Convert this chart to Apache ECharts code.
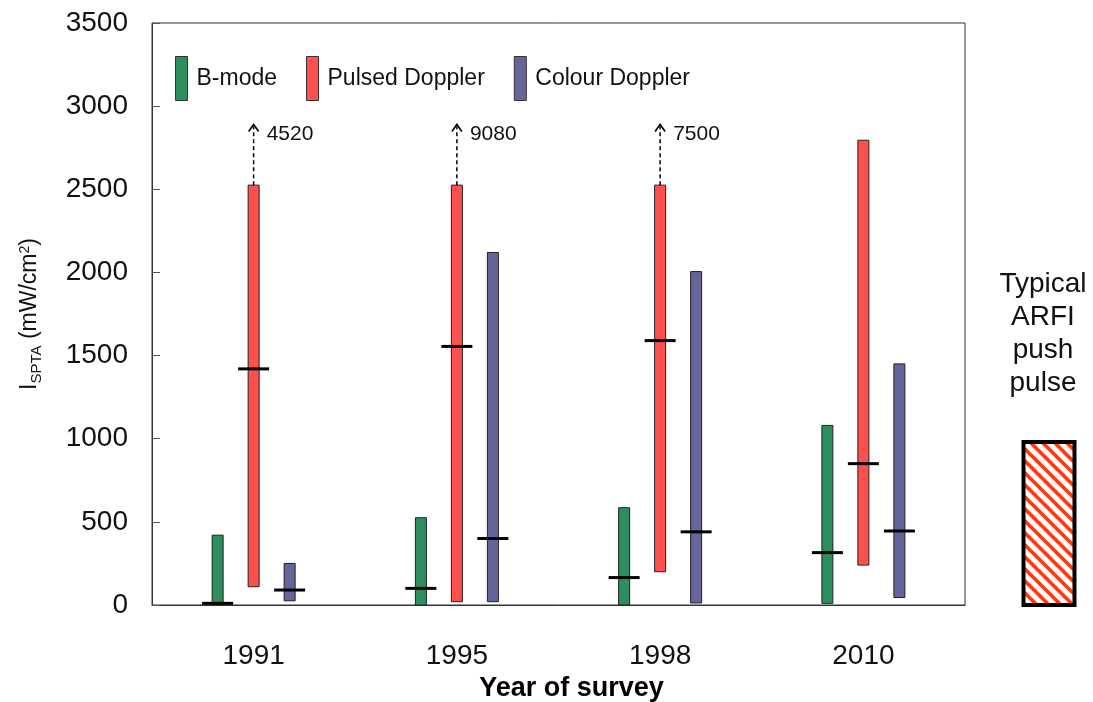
<!DOCTYPE html>
<html>
<head>
<meta charset="utf-8">
<script src="https://cdn.jsdelivr.net/npm/echarts@6/dist/echarts.min.js"></script>
<style>html,body{margin:0;padding:0;background:#fff}#chart{width:1093px;height:702px}</style>
</head>
<body>
<div id="chart"></div>
<script>
// ---- data ----
const years = ['1991', '1995', '1998', '2010'];
const seriesNames = ['B-mode', 'Pulsed Doppler', 'Colour Doppler'];
const bModeMin = [0, 0, 0, 10];
const bModeMax = [420, 525, 585, 1080];
const bModeMedian = [10, 100, 165, 315];
const pulsedMin = [110, 20, 200, 240];
const pulsedMax = [2525, 2525, 2525, 2795];
const pulsedMedian = [1420, 1555, 1590, 850];
const pulsedOffScaleMax = [4520, 9080, 7500, null];
const colourMin = [25, 20, 12, 45];
const colourMax = [250, 2120, 2005, 1450];
const colourMedian = [90, 400, 440, 445];
const arfiLabel = ['Typical ARFI push pulse'];
const arfiMin = [0];
const arfiMax = [980];
const yMin = 0, yMax = 3500, yStep = 500;
const arrowTip = 2890;

// ---- style constants ----
const FONT = '"Liberation Sans", Arial, sans-serif';
const BAR_W = 11, MED_W = 31, GROUP_OFF = 36;
const COLORS = ['#2e8f5e', '#ff5050', '#65659c'];

function rows(mins, maxs, meds) {
  return years.map((y, i) => [i, mins[i], maxs[i], meds[i]]);
}

function makeRange(offset, color, offScale) {
  return function (params, api) {
    const i = api.value(0);
    const pLo = api.coord([i, api.value(1)]);
    const pHi = api.coord([i, api.value(2)]);
    const pMd = api.coord([i, api.value(3)]);
    const x = pLo[0] + offset;
    const children = [
      { type: 'rect', shape: { x: x - BAR_W / 2, y: pHi[1], width: BAR_W, height: pLo[1] - pHi[1] },
        style: { fill: color, stroke: '#222', lineWidth: 1 } },
      { type: 'line', shape: { x1: x - MED_W / 2, y1: pMd[1], x2: x + MED_W / 2, y2: pMd[1] },
        style: { stroke: '#000', lineWidth: 3 } }
    ];
    const off = offScale ? offScale[params.dataIndex] : null;
    if (off != null) {
      const pTip = api.coord([i, arrowTip]);
      children.push({ type: 'line', shape: { x1: x, y1: pHi[1], x2: x, y2: pTip[1] + 2 },
        style: { stroke: '#000', lineWidth: 1.5, lineDash: [4, 3] } });
      children.push({ type: 'polyline', shape: { points: [[x - 5, pTip[1] + 7], [x, pTip[1]], [x + 5, pTip[1] + 7]] },
        style: { stroke: '#000', lineWidth: 1.6, fill: null } });
      children.push({ type: 'text', style: { text: String(off), x: x + 13, y: pTip[1] + 10,
        verticalAlign: 'middle', font: '21px ' + FONT, fill: '#111' } });
    }
    return { type: 'group', children };
  };
}

// hatch pattern
const pat = document.createElement('canvas');
pat.width = 12; pat.height = 12;
(function () {
  const c = pat.getContext('2d');
  c.fillStyle = '#fff'; c.fillRect(0, 0, 12, 12);
  c.strokeStyle = '#ff3a10'; c.lineWidth = 3.6;
  for (let k = -1; k <= 1; k++) {
    c.beginPath(); c.moveTo(-2, -2 + k * 12); c.lineTo(14, 14 + k * 12); c.stroke();
  }
})();

const chart = echarts.init(document.getElementById('chart'), null, { renderer: 'canvas' });
const option = {
  animation: false,
  backgroundColor: '#fff',
  textStyle: { fontFamily: FONT },
  legend: {
    data: seriesNames,
    left: 170, top: 51,
    icon: 'rect', itemWidth: 12, itemHeight: 44, itemGap: 29,
    itemStyle: { borderColor: '#333', borderWidth: 1 },
    textStyle: { fontSize: 23, color: '#111', fontFamily: FONT, padding: [0, 0, 0, 4] },
    selectedMode: false
  },
  grid: [
    { left: 152, right: 128, top: 23, bottom: 97, show: true, borderColor: '#333', borderWidth: 1,
      backgroundColor: 'transparent', outerBoundsMode: 'none', containLabel: false },
    { left: 1009, width: 80, top: 23, bottom: 97, outerBoundsMode: 'none', containLabel: false }
  ],
  xAxis: [
    { type: 'category', data: years, gridIndex: 0,
      axisLine: { lineStyle: { color: '#333' } }, axisTick: { show: false },
      axisLabel: { fontSize: 28, color: '#111', margin: 37, fontFamily: FONT },
      name: 'Year of survey', nameLocation: 'middle', nameGap: 58,
      nameTextStyle: { fontSize: 27, fontWeight: 'bold', color: '#000', fontFamily: FONT, padding: [0, 0, 0, 26] } },
    { type: 'category', data: arfiLabel, gridIndex: 1, show: false }
  ],
  yAxis: [
    { type: 'value', gridIndex: 0, min: yMin, max: yMax, interval: yStep,
      axisLine: { show: true, lineStyle: { color: '#333' } },
      axisTick: { show: true, inside: true, length: 8, lineStyle: { color: '#555' } },
      splitLine: { show: false },
      axisLabel: { fontSize: 28, color: '#111', margin: 24, fontFamily: FONT, formatter: v => String(v) },
      name: '{m|I}{s|SPTA}{m| (mW/cm}{p|2}{m|)}', nameLocation: 'middle', nameGap: 106,
      nameTextStyle: { rich: {
        m: { fontSize: 23, color: '#111', fontFamily: FONT, lineHeight: 32, verticalAlign: 'middle' },
        s: { fontSize: 15, color: '#111', fontFamily: FONT, lineHeight: 32, verticalAlign: 'bottom', padding: [0, 0, 2, 0] },
        p: { fontSize: 14, color: '#111', fontFamily: FONT, lineHeight: 32, verticalAlign: 'top', padding: [4, 0, 0, 0] }
      } } },
    { type: 'value', gridIndex: 1, min: yMin, max: yMax, interval: yStep, show: false, splitLine: { show: false } }
  ],
  graphic: [
    { type: 'text', x: 1043, y: 268, style: { text: 'Typical\nARFI\npush\npulse',
      align: 'center', verticalAlign: 'top', font: '28px ' + FONT, lineHeight: 33, fill: '#111' } }
  ],
  series: [
    { name: seriesNames[0], type: 'custom', xAxisIndex: 0, yAxisIndex: 0, itemStyle: { color: COLORS[0] },
      encode: { x: 0, y: [1, 2] }, data: rows(bModeMin, bModeMax, bModeMedian), renderItem: makeRange(-GROUP_OFF, COLORS[0]) },
    { name: seriesNames[1], type: 'custom', xAxisIndex: 0, yAxisIndex: 0, itemStyle: { color: COLORS[1] },
      encode: { x: 0, y: [1, 2] }, data: rows(pulsedMin, pulsedMax, pulsedMedian), renderItem: makeRange(0, COLORS[1], pulsedOffScaleMax) },
    { name: seriesNames[2], type: 'custom', xAxisIndex: 0, yAxisIndex: 0, itemStyle: { color: COLORS[2] },
      encode: { x: 0, y: [1, 2] }, data: rows(colourMin, colourMax, colourMedian), renderItem: makeRange(GROUP_OFF, COLORS[2]) },
    { name: 'ARFI', type: 'custom', xAxisIndex: 1, yAxisIndex: 1,
      encode: { x: 0, y: [1, 2] }, data: arfiLabel.map((l, i) => [i, arfiMin[i], arfiMax[i]]),
      renderItem: function (params, api) {
        const pLo = api.coord([api.value(0), api.value(1)]);
        const pHi = api.coord([api.value(0), api.value(2)]);
        const w = 51;
        return { type: 'rect', shape: { x: pLo[0] - w / 2, y: pHi[1], width: w, height: pLo[1] - pHi[1] },
          style: { fill: { image: pat, repeat: 'repeat' }, stroke: '#000', lineWidth: 4 } };
      } }
  ]
};
chart.setOption(option);
</script>
</body>
</html>
